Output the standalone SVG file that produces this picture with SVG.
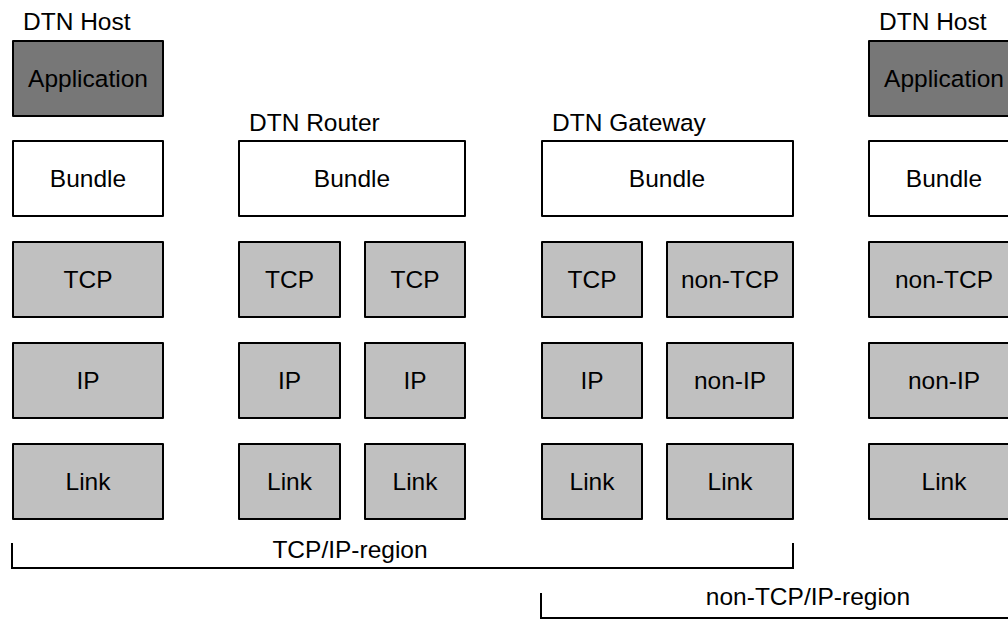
<svg xmlns="http://www.w3.org/2000/svg" width="1008" height="619" viewBox="0 0 1008 619">
<style>
  .box { stroke: #000; stroke-width: 2; stroke-linejoin: round; }
  .app { fill: #777777; }
  .bun { fill: #ffffff; }
  .lay { fill: #c0c0c0; }
  text { font-family: "Liberation Sans", Arial, sans-serif; font-size: 24.5px; fill: #000; }
  .c { text-anchor: middle; }
  .br { fill: none; stroke: #000; stroke-width: 2; }
</style>
<rect width="1008" height="619" fill="#ffffff"/>

<g id="host-left">
  <text x="23" y="30">DTN Host</text>
  <g id="host-left-app"><rect class="box app" x="13" y="41" width="150" height="75"/><text class="c" x="88" y="87">Application</text></g>
  <g id="host-left-bundle"><rect class="box bun" x="13" y="141" width="150" height="75"/><text class="c" x="88" y="187">Bundle</text></g>
  <g id="host-left-tcp"><rect class="box lay" x="13" y="242" width="150" height="75"/><text class="c" x="88" y="288">TCP</text></g>
  <g id="host-left-ip"><rect class="box lay" x="13" y="343" width="150" height="75"/><text class="c" x="88" y="389">IP</text></g>
  <g id="host-left-link"><rect class="box lay" x="13" y="444" width="150" height="75"/><text class="c" x="88" y="490">Link</text></g>
</g>

<g id="router">
  <text x="249" y="131">DTN Router</text>
  <g id="router-bundle"><rect class="box bun" x="239" y="141" width="226" height="75"/><text class="c" x="352" y="187">Bundle</text></g>
  <g id="router-tcp1"><rect class="box lay" x="239" y="242" width="101" height="75"/><text class="c" x="289.5" y="288">TCP</text></g>
  <g id="router-tcp2"><rect class="box lay" x="365" y="242" width="100" height="75"/><text class="c" x="415" y="288">TCP</text></g>
  <g id="router-ip1"><rect class="box lay" x="239" y="343" width="101" height="75"/><text class="c" x="289.5" y="389">IP</text></g>
  <g id="router-ip2"><rect class="box lay" x="365" y="343" width="100" height="75"/><text class="c" x="415" y="389">IP</text></g>
  <g id="router-link1"><rect class="box lay" x="239" y="444" width="101" height="75"/><text class="c" x="289.5" y="490">Link</text></g>
  <g id="router-link2"><rect class="box lay" x="365" y="444" width="100" height="75"/><text class="c" x="415" y="490">Link</text></g>
</g>

<g id="gateway">
  <text x="552" y="131">DTN Gateway</text>
  <g id="gateway-bundle"><rect class="box bun" x="542" y="141" width="251" height="75"/><text class="c" x="667" y="187">Bundle</text></g>
  <g id="gateway-tcp"><rect class="box lay" x="542" y="242" width="100" height="75"/><text class="c" x="592" y="288">TCP</text></g>
  <g id="gateway-nontcp"><rect class="box lay" x="667" y="242" width="126" height="75"/><text class="c" x="730" y="288">non-TCP</text></g>
  <g id="gateway-ip"><rect class="box lay" x="542" y="343" width="100" height="75"/><text class="c" x="592" y="389">IP</text></g>
  <g id="gateway-nonip"><rect class="box lay" x="667" y="343" width="126" height="75"/><text class="c" x="730" y="389">non-IP</text></g>
  <g id="gateway-link1"><rect class="box lay" x="542" y="444" width="100" height="75"/><text class="c" x="592" y="490">Link</text></g>
  <g id="gateway-link2"><rect class="box lay" x="667" y="444" width="126" height="75"/><text class="c" x="730" y="490">Link</text></g>
</g>

<g id="host-right">
  <text x="879" y="30">DTN Host</text>
  <g id="host-right-app"><rect class="box app" x="869" y="41" width="150" height="75"/><text class="c" x="944" y="87">Application</text></g>
  <g id="host-right-bundle"><rect class="box bun" x="869" y="141" width="150" height="75"/><text class="c" x="944" y="187">Bundle</text></g>
  <g id="host-right-nontcp"><rect class="box lay" x="869" y="242" width="150" height="75"/><text class="c" x="944" y="288">non-TCP</text></g>
  <g id="host-right-nonip"><rect class="box lay" x="869" y="343" width="150" height="75"/><text class="c" x="944" y="389">non-IP</text></g>
  <g id="host-right-link"><rect class="box lay" x="869" y="444" width="150" height="75"/><text class="c" x="944" y="490">Link</text></g>
</g>

<g id="connectors">
  <g id="tcpip-region">
    <polyline class="br" points="12,543 12,568 793,568 793,543"/>
    <text class="c" x="350" y="558">TCP/IP-region</text>
  </g>
  <g id="nontcpip-region">
    <polyline class="br" points="541,593 541,618 1010,618"/>
    <text class="c" x="808" y="605">non-TCP/IP-region</text>
  </g>
</g>
</svg>
